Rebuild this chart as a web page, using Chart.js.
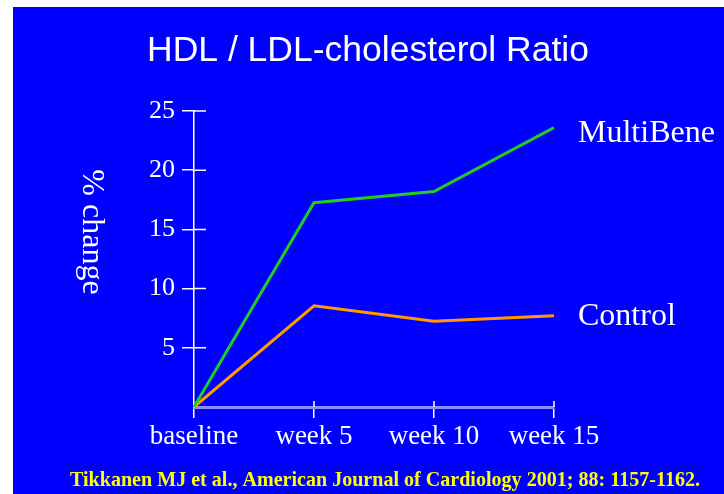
<!DOCTYPE html>
<html>
<head>
<meta charset="utf-8">
<script src="https://cdn.jsdelivr.net/npm/chart.js@4.4.1/dist/chart.umd.min.js"></script>
<style>
  html, body { margin: 0; padding: 0; background: #fff; }
  #wrap { position: absolute; left: 13px; top: 7px; width: 711px; height: 487px; background: #0000ff; }
  canvas { display: block; }
</style>
</head>
<body>
<div id="wrap"><canvas id="c" width="711" height="487"></canvas></div>
<script>
// data
const weeks = ['baseline', 'week 5', 'week 10', 'week 15'];
const multiBene = [0, 17.25, 18.2, 23.6];
const control = [0, 8.55, 7.25, 7.7];
const yTicks = [0, 5, 10, 15, 20, 25];

const serif = '"Liberation Serif", "Times New Roman", serif';
const sans = '"Liberation Sans", Arial, sans-serif';

// offsets are relative to the blue box (which sits at 13,7 in the page)
const OX = 13, OY = 7;

// texts that are not part of Chart.js itself: title, rotated y title, series names, citation
const slideText = {
   id: 'slideText',
   afterDraw(chart) {
      const ctx = chart.ctx;
      ctx.save();
      ctx.fillStyle = '#fff';
      ctx.textAlign = 'center';
      ctx.textBaseline = 'alphabetic';
      ctx.font = '35.5px ' + sans;
      ctx.fillText('HDL / LDL-cholesterol Ratio', 368 - OX, 61 - OY);

      // "% change" reads top to bottom
      ctx.save();
      ctx.translate(91 - OX, 232 - OY);
      ctx.rotate(Math.PI / 2);
      ctx.font = '32px ' + serif;
      ctx.textBaseline = 'middle';
      ctx.fillText('% change', 0, 0);
      ctx.restore();

      // series names next to line ends
      ctx.textAlign = 'left';
      ctx.font = '32px ' + serif;
      ctx.fillText('MultiBene', 578 - OX, 142 - OY);
      ctx.fillText('Control', 578 - OX, 325 - OY);

      ctx.fillStyle = '#ffff00';
      ctx.font = 'bold 21px ' + serif;
      ctx.fillText('Tikkanen MJ et al., American Journal of Cardiology 2001; 88: 1157-1162.', 70 - OX, 486 - OY, 630);
      ctx.restore();
   }
};

// inner half of the tick marks (Chart.js only draws the outer half)
const crossTicks = {
   id: 'crossTicks',
   afterDraw(chart) {
      const ctx = chart.ctx;
      const x = chart.scales.x, y = chart.scales.y;
      const a = chart.chartArea;
      ctx.save();
      ctx.strokeStyle = '#fff';
      ctx.lineWidth = 1.5;
      ctx.beginPath();
      yTicks.forEach((v) => {
         if (v === 0) return;
         const py = y.getPixelForValue(v);
         ctx.moveTo(a.left, py);
         ctx.lineTo(a.left + 12, py);
      });
      weeks.forEach((w, i) => {
         if (i === 0) return;
         const px = x.getPixelForValue(i);
         ctx.moveTo(px, a.bottom);
         ctx.lineTo(px, a.bottom - 6);
      });
      ctx.stroke();
      ctx.restore();
   }
};

new Chart(document.getElementById('c'), {
   type: 'line',
   data: {
      labels: weeks,
      datasets: [
         { label: 'MultiBene', data: multiBene, borderColor: '#22cc22', borderWidth: 3, pointRadius: 0, tension: 0 },
         { label: 'Control', data: control, borderColor: '#ff9900', borderWidth: 3, pointRadius: 0, tension: 0 }
      ]
   },
   options: {
      responsive: false,
      animation: false,
      devicePixelRatio: 1,
      layout: { padding: { left: 0, top: 111 - OY, right: 724 - 554, bottom: 0 } },
      plugins: { legend: { display: false }, tooltip: { enabled: false } },
      scales: {
         x: {
            offset: false,
            grid: { drawOnChartArea: false, color: '#fff', tickLength: 11, lineWidth: 1.5 },
            border: { color: '#8c8cff', width: 3 },
            ticks: { color: '#fff', font: { family: serif, size: 27 }, padding: 3, maxRotation: 0, autoSkip: false },
            afterFit(s) { s.height = 494 - 407; }
         },
         y: {
            min: 0, max: 25,
            afterBuildTicks(s) { s.ticks = yTicks.map((v) => ({ value: v })); },
            grid: { drawOnChartArea: false, color: (c) => c.tick && c.tick.value === 0 ? 'rgba(0,0,0,0)' : '#fff', tickLength: 12, lineWidth: 1.5 },
            border: { color: '#fff', width: 1.5 },
            ticks: { color: '#fff', font: { family: serif, size: 26 }, padding: 7, callback: (v) => v === 0 ? '' : v },
            afterFit(s) { s.width = 194 - OX; }
         }
      }
   },
   plugins: [slideText, crossTicks]
});
</script>
</body>
</html>
